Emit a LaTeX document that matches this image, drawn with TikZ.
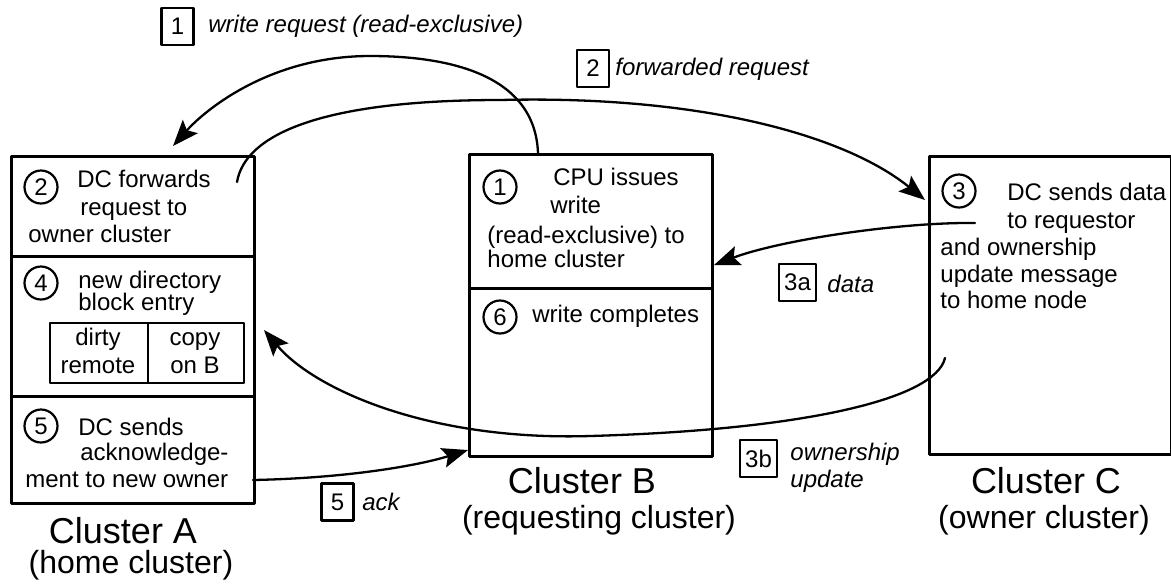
\documentclass[tikz,border=0pt]{standalone}
\usepackage{fontspec}
\setmainfont{Liberation Sans}
\usetikzlibrary{arrows.meta}
\usetikzlibrary{positioning}

\begin{document}
\begin{tikzpicture}[x=0.5pt,y=-0.5pt,line cap=round,line join=round,
  box/.style={draw,line width=1.3pt,inner sep=0pt,anchor=north west},
  num/.style={draw,circle,line width=1.1pt,minimum size=16.5pt,inner sep=0pt,font=\fontsize{12}{12}\selectfont},
  tag/.style={draw,line width=1.1pt,minimum width=16pt,minimum height=18.5pt,inner xsep=2.5pt,inner ysep=0pt,font=\fontsize{12}{12}\selectfont},
  txt/.style={anchor=base west,inner sep=0pt,font=\fontsize{12}{14}\selectfont},
  ctxt/.style={txt,anchor=base},
  lbl/.style={txt,font=\fontsize{12}{14}\selectfont\itshape},
  title/.style={anchor=base,inner sep=0pt,font=\fontsize{18}{18}\selectfont},
  subtitle/.style={anchor=base,inner sep=0pt,font=\fontsize{16}{16}\selectfont},
  msg/.style={line width=1.15pt,-{Stealth[length=13pt,width=10pt,inset=2.5pt]}}]
\useasboundingbox (0,0) rectangle (1171,586);

% Cluster A
\node[box,minimum width=121.5pt,minimum height=50pt] (a2) at (10,155) {};
\node[box,minimum width=121.5pt,minimum height=70pt] (a4) at (10,255) {};
\node[box,minimum width=121.5pt,minimum height=53.5pt] (a5) at (10,395) {};
\node[box,line width=1.1pt,minimum width=49pt,minimum height=30pt] (dirty) at (49,322) {};
\node[box,line width=1.1pt,minimum width=48pt,minimum height=30pt] (copy) at (147,322) {};
\node[num] (na2) at (41,187) {2};
\node[num] (na4) at (41,283) {4};
\node[num] (na5) at (41,426) {5};
\node[txt] (ta2a) at (77,187) {DC forwards};
\node[txt] (ta2b) at (80,215) {request to};
\node[txt] (ta2c) at (28,242) {owner cluster};
\node[txt] (ta4a) at (78,288) {new directory};
\node[txt] (ta4b) at (78,310) {block entry};
\node[ctxt] (tdirty1) at (98,345) {dirty};
\node[ctxt] (tdirty2) at (98,373) {remote};
\node[ctxt] (tcopy1) at (195,345) {copy};
\node[ctxt] (tcopy2) at (195,373) {on B};
\node[txt] (ta5a) at (78,435) {DC sends};
\node[txt] (ta5b) at (80,460) {acknowledge-};
\node[txt] (ta5c) at (25,487) {ment to new owner};
\node[title] (namea) at (123,543) {Cluster A};
\node[subtitle] (rolea) at (131,573) {(home cluster)};

% Cluster B
\node[box,minimum width=121.5pt,minimum height=67pt] (b1) at (468,153) {};
\node[box,minimum width=121.5pt,minimum height=84pt] (b6) at (468,287) {};
\node[num] (nb1) at (500,187) {1};
\node[num] (nb6) at (500,317) {6};
\node[txt] (tb1a) at (553,185) {CPU issues};
\node[txt] (tb1b) at (550,213) {write};
\node[txt] (tb1c) at (487,243) {(read-exclusive) to};
\node[txt] (tb1d) at (487,267) {home cluster};
\node[txt] (tb6) at (532,322) {write completes};
\node[title] (nameb) at (582,493) {Cluster B};
\node[subtitle] (roleb) at (599,528) {(requesting cluster)};

% Cluster C
\node[box,minimum width=121pt,minimum height=149pt] (c3) at (928,155) {};
\node[num] (nc3) at (959,191) {3};
\node[txt] (tc3a) at (1007,200) {DC sends data};
\node[txt] (tc3b) at (1007,228) {to requestor};
\node[txt] (tc3c) at (940,255) {and ownership};
\node[txt] (tc3d) at (940,282) {update message};
\node[txt] (tc3e) at (940,308) {to home node};
\node[title] (namec) at (1046,493) {Cluster C};
\node[subtitle] (rolec) at (1044,528) {(owner cluster)};

% message labels
\node[tag] (m1) at (177.5,26.5) {1};
\node[lbl] (l1) at (208,32) {write request (read-exclusive)};
\node[tag] (m2) at (593,68.5) {2};
\node[lbl] (l2) at (615,75) {forwarded request};
\node[tag] (m3a) at (797.5,282.5) {3a};
\node[lbl] (l3a) at (827,292) {data};
\node[tag] (m3b) at (758.5,458.5) {3b};
\node[lbl] (l3b) at (790,460) {ownership};
\node[lbl] (l3c) at (790,487) {update};
\node[tag] (m5) at (337.5,502) {5};
\node[lbl] (l5) at (362,510) {ack};

% messages
\coordinate (wrS) at (538,153);
\coordinate (wrE) at (173,146);
\coordinate (fwS) at (237,182);
\coordinate (fwE) at (925,200);
\coordinate (daS) at (975,223);
\coordinate (daE) at (714,265);
\coordinate (owS) at (945,358);
\coordinate (owE) at (264,330);
\coordinate (akS) at (253,480);
\coordinate (akE) at (468,450);
\draw[msg] (wrS) .. controls (535,75) and (450,56) .. (370,56) .. controls (270,56) and (205,110) .. (wrE);
\draw[msg] (fwS) .. controls (245,135) and (320,100) .. (500,100) .. controls (700,95) and (845,135) .. (fwE);
\draw[msg] (daS) .. controls (900,222) and (780,240) .. (daE);
\draw[msg] (owS) .. controls (935,400) and (800,430) .. (590,436) .. controls (430,441) and (315,390) .. (owE);
\draw[msg] (akS) .. controls (350,478) and (420,465) .. (akE);
\end{tikzpicture}
\end{document}
